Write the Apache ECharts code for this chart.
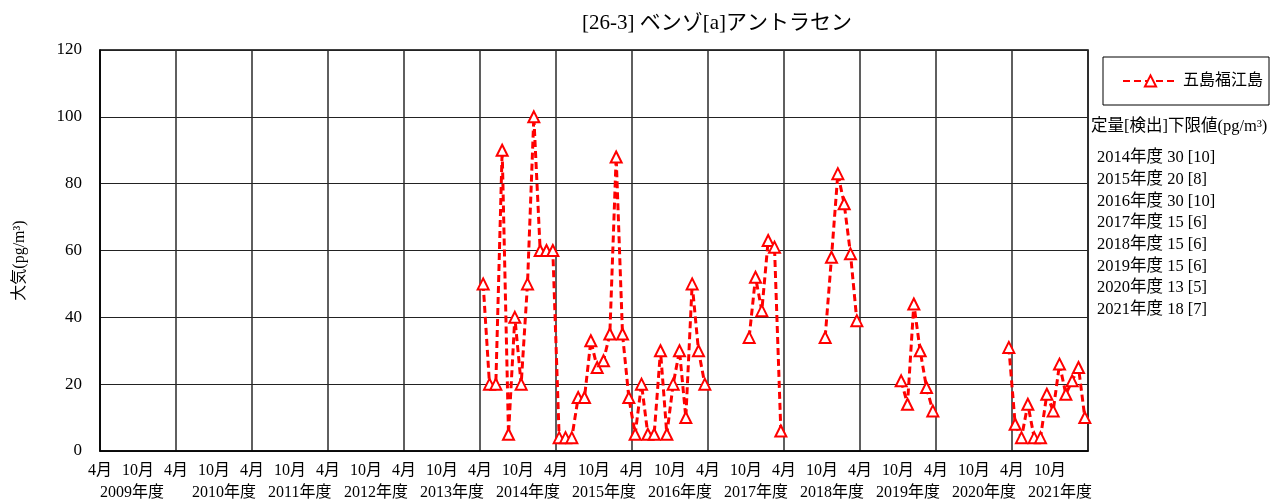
<!DOCTYPE html>
<html>
<head>
<meta charset="utf-8">
<script src="https://cdn.jsdelivr.net/npm/echarts@6/dist/echarts.min.js"></script>
<style>
html,body{margin:0;padding:0;background:#fff;}
#c{width:1274px;height:501px;}
</style>
</head>
<body>
<div id="c"></div>
<script>
// ---- data ----
var fiscalYears = ['2009年度','2010年度','2011年度','2012年度','2013年度','2014年度','2015年度','2016年度','2017年度','2018年度','2019年度','2020年度','2021年度'];
var monthTickLabels = ['4月','10月'];
var N = null;
var fy2009 = [N,N,N,N,N,N,N,N,N,N,N,N];
var fy2010 = [N,N,N,N,N,N,N,N,N,N,N,N];
var fy2011 = [N,N,N,N,N,N,N,N,N,N,N,N];
var fy2012 = [N,N,N,N,N,N,N,N,N,N,N,N];
var fy2013 = [N,N,N,N,N,N,N,N,N,N,N,N];
var fy2014 = [50,20,20,90,5,40,20,50,100,60,60,60];
var fy2015 = [4,4,4,16,16,33,25,27,35,88,35,16];
var fy2016 = [5,20,5,5,30,5,20,30,10,50,30,20];
var fy2017 = [N,N,N,N,N,N,34,52,42,63,61,6];
var fy2018 = [N,N,N,N,N,N,34,58,83,74,59,39];
var fy2019 = [N,N,N,N,N,N,21,14,44,30,19,12];
var fy2020 = [N,N,N,N,N,N,N,N,N,N,N,31];
var fy2021 = [8,4,14,4,4,17,12,26,17,21,25,10];
var seriesName = '五島福江島';
var limitTitle = '定量[検出]下限値(pg/m³)';
var limitLines = ['2014年度 30 [10]','2015年度 20 [8]','2016年度 30 [10]','2017年度 15 [6]','2018年度 15 [6]','2019年度 15 [6]','2020年度 13 [5]','2021年度 18 [7]'];
var chartTitle = '[26-3] ベンゾ[a]アントラセン';
var yName = '大気(pg/m³)';

// ---- build ----
var all = [].concat(fy2009,fy2010,fy2011,fy2012,fy2013,fy2014,fy2015,fy2016,fy2017,fy2018,fy2019,fy2020,fy2021);
var pts = all.map(function(v,i){ return [i+0.5, v==null ? '-' : v]; });
var nMonths = all.length;
var FONT = "'Liberation Serif','Noto Sans CJK JP',serif";

var chart = echarts.init(document.getElementById('c'), null, {renderer:'canvas'});
chart.setOption({
  animation:false,
  backgroundColor:'#fff',
  title:{
    text:chartTitle, left:577, top:8,
    textStyle:{fontFamily:FONT, fontSize:21, fontWeight:'normal', color:'#000'}
  },
  grid:{left:100, right:186, top:50, bottom:50, show:true, borderColor:'#000', borderWidth:1.5},
  legend:{
    data:[seriesName], left:1103, top:57, orient:'horizontal',
    padding:[16,6,16,19], itemWidth:55, itemHeight:14, itemGap:5,
    borderColor:'#000', borderWidth:1,
    textStyle:{fontFamily:FONT, fontSize:16, color:'#000'}
  },
  xAxis:[
    {type:'value', min:0, max:nMonths, interval:12,
     axisLine:{show:true, lineStyle:{color:'#000', width:1.5}}, axisTick:{show:false},
     axisLabel:{show:false},
     splitLine:{show:true, lineStyle:{color:'#2a2a2a', width:1.5}}},
    {type:'value', min:0, max:nMonths, interval:6, position:'bottom',
     axisLine:{show:false}, axisTick:{show:false}, splitLine:{show:false},
     axisLabel:{show:true, margin:12, color:'#000', fontFamily:FONT, fontSize:16,
       formatter:function(v){ if(v>=nMonths) return ''; return (v%12===0)?monthTickLabels[0]:monthTickLabels[1]; }}},
    {type:'value', min:0, max:nMonths, interval:12, position:'bottom',
     axisLine:{show:false}, axisTick:{show:false}, splitLine:{show:false},
     axisLabel:{show:true, margin:34, color:'#000', fontFamily:FONT, fontSize:16, align:'left',
       formatter:function(v){ var i=Math.round(v/12); if(i>=fiscalYears.length) return ''; return (i===0?'{a|':'{b|')+fiscalYears[i]+'}'; },
       rich:{a:{fontFamily:FONT, fontSize:16, color:'#000'}, b:{fontFamily:FONT, fontSize:16, color:'#000', padding:[0,0,0,16]}}}}
  ],
  yAxis:{
    type:'value', min:0, max:120, interval:20,
    axisLine:{show:true, lineStyle:{color:'#000', width:1.5}}, axisTick:{show:false},
    axisLabel:{color:'#000', fontFamily:FONT, fontSize:17, margin:18},
    splitLine:{show:true, lineStyle:{color:'#222', width:1}},
    name:yName, nameLocation:'middle', nameGap:72, nameRotate:90,
    nameTextStyle:{color:'#000', fontFamily:FONT, fontSize:16, padding:[0,20,0,0]}
  },
  series:[{
    name:seriesName, type:'line', xAxisIndex:0, data:pts,
    connectNulls:false, showAllSymbol:true,
    symbol:'emptyTriangle', symbolSize:11,
    lineStyle:{color:'#ff0000', width:3, type:[7,4]},
    itemStyle:{color:'#ff0000', borderWidth:2.5}
  }],
  graphic:[
    {type:'text', left:1091, top:118, style:{text:limitTitle, fontFamily:FONT, fontSize:16.5, fill:'#000'}},
    {type:'text', left:1097, top:147, style:{text:limitLines.join('\n'), fontFamily:FONT, fontSize:16.5, lineHeight:21.7, fill:'#000'}}
  ]
});
</script>
</body>
</html>
